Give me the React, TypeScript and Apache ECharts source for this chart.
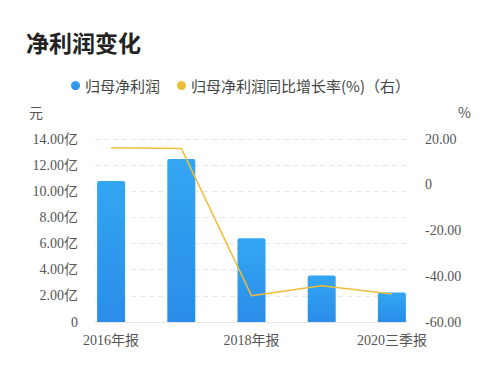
import React, { useEffect, useRef } from "react";
import * as echarts from "echarts";

const categories = ["2016年报", "2017年报", "2018年报", "2019年报", "2020三季报"];
const netProfit = [10.79, 12.47, 6.4, 3.55, 2.25];
const growthRate = [16.2, 15.9, -48.5, -44.2, -47.8];
const leftTicks = { min: 0, max: 14, interval: 2 };
const rightTicks = { min: -60, max: 20, interval: 20 };

const serif = "'Liberation Serif', 'Noto Sans CJK SC', serif";
const sans = "'Noto Sans CJK SC', 'Noto Sans', sans-serif";

export default function App() {
  const ref = useRef<HTMLDivElement>(null);
  useEffect(() => {
    if (!ref.current) return;
    const chart = echarts.init(ref.current, undefined, { renderer: "svg" });
    chart.setOption({
      animation: false,
      backgroundColor: "#ffffff",
      title: {
        text: "净利润变化",
        left: 21,
        top: 25,
        textStyle: { fontFamily: sans, fontSize: 23, fontWeight: "bold", color: "#222" },
      },
      legend: {
        left: 66,
        top: 73,
        icon: "circle",
        itemWidth: 9,
        itemHeight: 9,
        itemGap: 17,
        textStyle: { fontFamily: sans, fontSize: 15, color: "#444" },
        data: ["归母净利润", "归母净利润同比增长率(%)（右）"],
      },
      graphic: [
        {
          type: "text",
          left: 29,
          top: 105,
          style: { text: "元", font: `14px ${sans}`, fill: "#555" },
        },
        {
          type: "text",
          left: 458,
          top: 105,
          style: { text: "%", font: `14px ${sans}`, fill: "#555" },
        },
      ],
      grid: [
        { left: 76, right: 73, top: 139, bottom: 50 },
        { left: 95, right: 93, top: 139, bottom: 50 },
      ],
      xAxis: [
        {
          type: "category",
          gridIndex: 0,
          data: categories,
          boundaryGap: true,
          axisLine: { show: false },
          axisTick: { show: false },
          axisLabel: {
            interval: 1,
            margin: 11,
            fontSize: 14,
            color: "#555",
            fontFamily: serif,
          },
        },
        {
          type: "value",
          gridIndex: 1,
          min: 0,
          max: 1,
          axisLine: { show: true, lineStyle: { color: "#e6e6e6" } },
          axisTick: { show: false },
          axisLabel: { show: false },
          splitLine: { show: false },
        },
      ],
      yAxis: [
        {
          type: "value",
          gridIndex: 0,
          ...leftTicks,
          show: false,
          splitLine: { show: false },
        },
        {
          type: "value",
          gridIndex: 0,
          position: "right",
          ...rightTicks,
          show: false,
          splitLine: { show: false },
        },
        {
          type: "value",
          gridIndex: 1,
          position: "left",
          ...leftTicks,
          axisLine: { show: false },
          axisTick: { show: false },
          axisLabel: {
            margin: 17,
            fontSize: 14,
            color: "#555",
            fontFamily: serif,
            formatter: (v: number) => (v === 0 ? "0" : v.toFixed(2) + "亿"),
          },
          splitLine: { show: true, lineStyle: { color: "#e8e8e8", type: [5, 4] } },
        },
        {
          type: "value",
          gridIndex: 1,
          position: "right",
          ...rightTicks,
          axisLine: { show: false },
          axisTick: { show: false },
          axisLabel: {
            margin: 18,
            fontSize: 14,
            color: "#555",
            fontFamily: serif,
            formatter: (v: number) => (v === 0 ? "0" : v.toFixed(2)),
          },
          splitLine: { show: false },
        },
      ],
      series: [
        {
          name: "归母净利润",
          type: "bar",
          xAxisIndex: 0,
          yAxisIndex: 0,
          data: netProfit,
          barWidth: 28,
          itemStyle: {
            borderRadius: [2, 2, 0, 0],
            color: new echarts.graphic.LinearGradient(0, 0, 0, 1, [
              { offset: 0, color: "#33a6f2" },
              { offset: 1, color: "#2a8de8" },
            ]),
          },
        },
        {
          name: "归母净利润同比增长率(%)（右）",
          type: "line",
          xAxisIndex: 0,
          yAxisIndex: 1,
          data: growthRate,
          symbol: "none",
          smooth: false,
          lineStyle: { color: "#eebe3a", width: 1.5 },
          itemStyle: { color: "#eebe3a" },
        },
      ],
    });
    return () => chart.dispose();
  }, []);
  return <div ref={ref} style={{ width: 500, height: 372, position: "absolute", left: 0, top: 0 }} />;
}
